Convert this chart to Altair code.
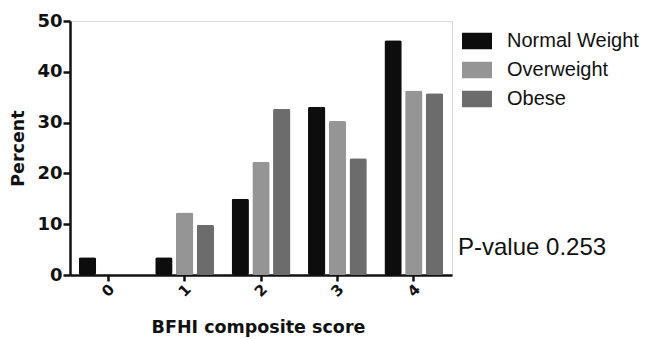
import altair as alt
import pandas as pd

scores = ["0", "1", "2", "3", "4"]
groups = ["Normal Weight", "Overweight", "Obese"]
normal_weight = [3.5, 3.5, 15.0, 33.1, 46.2]
overweight = [0.0, 12.3, 22.3, 30.3, 36.3]
obese = [0.0, 9.9, 32.7, 23.0, 35.8]
colors = ["#0d0d0d", "#959595", "#6c6c6c"]
p_text = "P-value 0.253"

rows = []
for g, vals in zip(groups, [normal_weight, overweight, obese]):
    for s, v in zip(scores, vals):
        rows.append({"score": s, "group": g, "percent": v})
df = pd.DataFrame(rows)

bold = "DejaVu Sans"
normal = "Liberation Sans"

bars = alt.Chart(df).mark_bar(cornerRadius=2).encode(
    x=alt.X("score:N", sort=scores,
            scale=alt.Scale(paddingInner=0, paddingOuter=0),
            axis=alt.Axis(title="BFHI composite score", labelAngle=-45,
                          labelAlign="center", labelBaseline="middle",
                          labelPadding=9, tickSize=6, tickWidth=2.5,
                          domainWidth=2.5, domainColor="#111", tickColor="#111",
                          labelFont=bold, labelFontSize=15, labelFontWeight="bold",
                          labelColor="#111",
                          titleFont=bold, titleFontSize=17.5, titleFontWeight="bold",
                          titleColor="#111", titleX=188, titleY=52,
                          titleBaseline="middle", grid=False)),
    xOffset=alt.XOffset("group:N", sort=groups,
                        scale=alt.Scale(paddingInner=0.164, paddingOuter=0.425)),
    y=alt.Y("percent:Q", scale=alt.Scale(domain=[0, 50], nice=False),
            axis=alt.Axis(title="Percent", values=[0, 10, 20, 30, 40, 50],
                          tickSize=7, tickWidth=2.5, domainWidth=2.5,
                          domainColor="#111", tickColor="#111", labelPadding=1,
                          labelFont=bold, labelFontSize=18, labelFontWeight="bold",
                          labelColor="#111",
                          titleFont=bold, titleFontSize=17.5, titleFontWeight="bold",
                          titleColor="#111", titleX=-52, titleY=127,
                          titleBaseline="middle", titleAngle=-90, grid=False)),
    color=alt.Color("group:N", sort=groups,
                    scale=alt.Scale(domain=groups, range=colors),
                    legend=alt.Legend(title=None, orient="none", legendX=392, legendY=5,
                                      symbolType="M-1,-0.55H1V0.55H-1Z",
                                      symbolSize=900, symbolStrokeWidth=0,
                                      labelFont=normal, labelFontSize=20,
                                      labelColor="#111", labelOffset=15,
                                      rowPadding=4)),
)

ptext = alt.Chart(pd.DataFrame({"t": [p_text]})).mark_text(
    align="left", baseline="middle", font=normal, fontSize=24, color="#111"
).encode(text="t:N", x=alt.value(388), y=alt.value(227))

chart = alt.layer(bars, ptext).properties(
    width=382, height=254,
    autosize=alt.AutoSizeParams(type="none"),
    padding={"left": 62, "top": 13, "right": 187, "bottom": 63},
).configure_view(stroke=None).configure(background="white")

chart.save("out.html", embed_options={"renderer": "svg", "actions": False})
